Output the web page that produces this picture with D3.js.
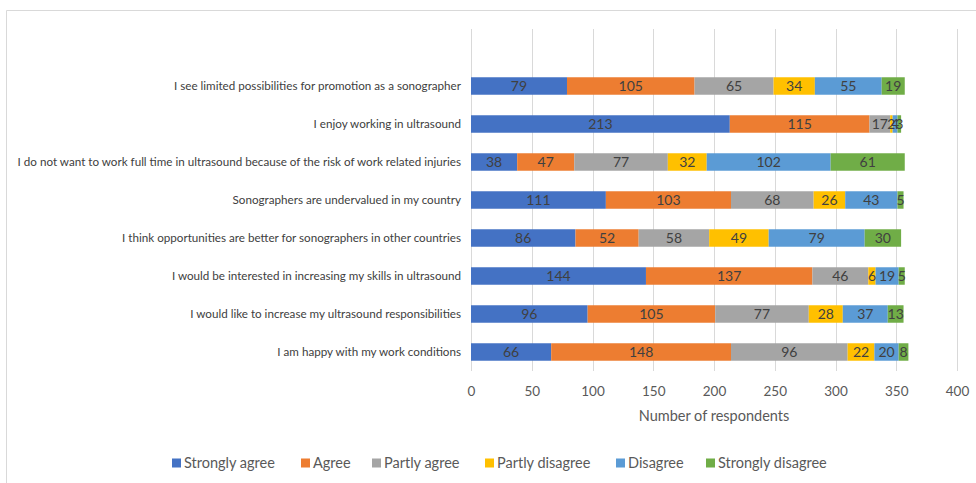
<!DOCTYPE html>
<html><head><meta charset="utf-8">
<script src="https://cdn.jsdelivr.net/npm/d3@7"></script>
<style>body{margin:0;background:#fff}svg{display:block}</style>
</head><body><svg id="c" width="976" height="483"></svg>
<script>
const categories = [
  "I see limited possibilities for promotion as a sonographer",
  "I enjoy working in ultrasound",
  "I do not want to work full time in ultrasound because of the risk of work related injuries",
  "Sonographers are undervalued in my country",
  "I think opportunities are better for sonographers in other countries",
  "I would be interested in increasing my skills in ultrasound",
  "I would like to increase my ultrasound responsibilities",
  "I am happy with my work conditions"
];
const seriesNames = ["Strongly agree","Agree","Partly agree","Partly disagree","Disagree","Strongly disagree"];
const stronglyAgree   = [79, 213, 38, 111, 86, 144, 96, 66];
const agree           = [105,115, 47, 103, 52, 137,105,148];
const partlyAgree     = [65,  17, 77,  68, 58,  46, 77, 96];
const partlyDisagree  = [34,   2, 32,  26, 49,   6, 28, 22];
const disagree        = [55,   4,102,  43, 79,  19, 37, 20];
const stronglyDisagree= [19,   3, 61,   5, 30,   5, 13,  8];
const xTicks = [0,50,100,150,200,250,300,350,400];
const colors = ["#4472C4","#ED7D31","#A5A5A5","#FFC000","#5B9BD5","#70AD47"];

const seriesValues = [stronglyAgree, agree, partlyAgree, partlyDisagree, disagree, stronglyDisagree];
const rows = categories.map((c,i)=>{const r={cat:c}; seriesNames.forEach((s,j)=>r[s]=seriesValues[j][i]); return r;});
const stack = d3.stack().keys(seriesNames)(rows);

const svg = d3.select("#c");
const font = "Lato, 'Open Sans', sans-serif";
// frame
svg.append("path").attr("d","M6.5,483 V10.5 H976").attr("fill","none").attr("stroke","#d9d9d9").attr("stroke-width",1);

const x = d3.scaleLinear().domain([0,400]).range([471,957]);
const y = d3.scaleBand().domain(categories).range([67,371]).paddingInner(0.54).paddingOuter(0.27);

// gridlines
svg.append("g").selectAll("line").data(xTicks).join("line")
  .attr("x1",d=>Math.round(x(d))+0.5).attr("x2",d=>Math.round(x(d))+0.5)
  .attr("y1",29).attr("y2",371).attr("stroke","#d9d9d9").attr("stroke-width",1);

// bars
const g = svg.append("g");
stack.forEach((layer,li)=>{
  g.append("g").selectAll("rect").data(layer).join("rect")
    .attr("x",d=>x(d[0])).attr("width",d=>x(d[1])-x(d[0]))
    .attr("y",d=>y(d.data.cat)).attr("height",y.bandwidth())
    .attr("fill",colors[li]);
});
stack.forEach((layer,li)=>{
  g.append("g").selectAll("text").data(layer).join("text")
    .attr("x",d=>(x(d[0])+x(d[1]))/2).attr("y",d=>y(d.data.cat)+y.bandwidth()/2)
    .attr("dy","0.36em").attr("text-anchor","middle")
    .attr("font-family",font).attr("font-size",14).attr("fill","#404040")
    .text(d=>d[1]-d[0]);
});

// category labels
svg.append("g").selectAll("text").data(categories).join("text")
  .attr("x",461).attr("y",d=>y(d)+y.bandwidth()/2).attr("dy","0.35em")
  .attr("text-anchor","end").attr("font-family",font).attr("font-size",11.65).attr("fill","#404040")
  .text(d=>d);

// x axis
const ax = svg.append("g").attr("transform","translate(0,371)")
  .call(d3.axisBottom(x).tickValues(xTicks).tickSize(0).tickPadding(15));
ax.select(".domain").remove();
ax.selectAll("text").attr("font-family",font).attr("font-size",13.5).attr("fill","#595959");

svg.append("text").attr("x",714).attr("y",421).attr("text-anchor","middle")
  .attr("font-family",font).attr("font-size",14.5).attr("fill","#595959").text("Number of respondents");

// legend
const legX = [172,301,372,485,616,706];
const leg = svg.append("g").selectAll("g").data(seriesNames).join("g")
  .attr("transform",(d,i)=>`translate(${legX[i]},463)`);
leg.append("rect").attr("x",0).attr("y",-4.5).attr("width",9).attr("height",9).attr("fill",(d,i)=>colors[i]);
leg.append("text").attr("x",12).attr("y",0).attr("dy","0.35em")
  .attr("font-family",font).attr("font-size",14.5).attr("fill","#595959").text(d=>d);
</script></body></html>
